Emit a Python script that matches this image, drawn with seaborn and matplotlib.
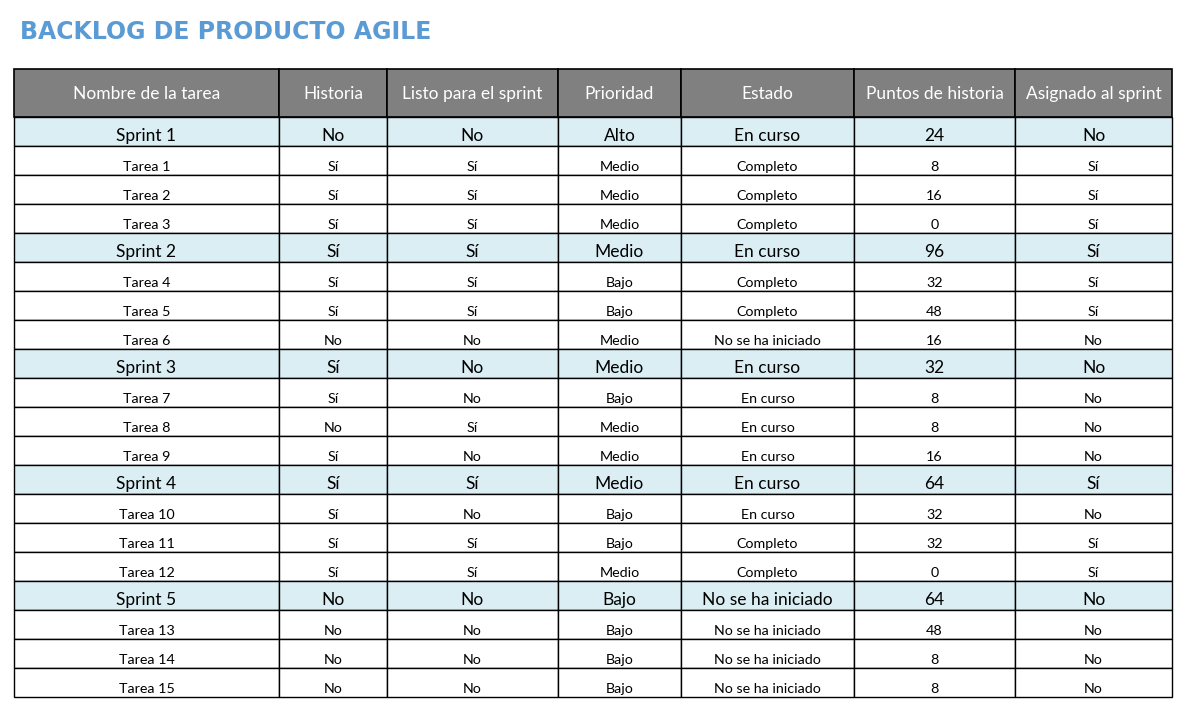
import matplotlib
matplotlib.use("Agg")
import matplotlib.pyplot as plt
from matplotlib.patches import Rectangle
import seaborn as sns
import pandas as pd

# ----------------- Table data -----------------
title = "BACKLOG DE PRODUCTO AGILE"
headers = ["Nombre de la tarea", "Historia", "Listo para el sprint", "Prioridad",
           "Estado", "Puntos de historia", "Asignado al sprint"]

nombres = ["Sprint 1", "Tarea 1", "Tarea 2", "Tarea 3",
           "Sprint 2", "Tarea 4", "Tarea 5", "Tarea 6",
           "Sprint 3", "Tarea 7", "Tarea 8", "Tarea 9",
           "Sprint 4", "Tarea 10", "Tarea 11", "Tarea 12",
           "Sprint 5", "Tarea 13", "Tarea 14", "Tarea 15"]
historia = ["No", "Sí", "Sí", "Sí",
            "Sí", "Sí", "Sí", "No",
            "Sí", "Sí", "No", "Sí",
            "Sí", "Sí", "Sí", "Sí",
            "No", "No", "No", "No"]
listo = ["No", "Sí", "Sí", "Sí",
         "Sí", "Sí", "Sí", "No",
         "No", "No", "Sí", "No",
         "Sí", "No", "Sí", "Sí",
         "No", "No", "No", "No"]
prioridad = ["Alto", "Medio", "Medio", "Medio",
             "Medio", "Bajo", "Bajo", "Medio",
             "Medio", "Bajo", "Medio", "Medio",
             "Medio", "Bajo", "Bajo", "Medio",
             "Bajo", "Bajo", "Bajo", "Bajo"]
estado = ["En curso", "Completo", "Completo", "Completo",
          "En curso", "Completo", "Completo", "No se ha iniciado",
          "En curso", "En curso", "En curso", "En curso",
          "En curso", "En curso", "Completo", "Completo",
          "No se ha iniciado", "No se ha iniciado", "No se ha iniciado", "No se ha iniciado"]
puntos = [24, 8, 16, 0,
          96, 32, 48, 16,
          32, 8, 8, 16,
          64, 32, 32, 0,
          64, 48, 8, 8]
asignado = ["No", "Sí", "Sí", "Sí",
            "Sí", "Sí", "Sí", "No",
            "No", "No", "No", "No",
            "Sí", "No", "Sí", "Sí",
            "No", "No", "No", "No"]

df = pd.DataFrame({
    headers[0]: nombres, headers[1]: historia, headers[2]: listo,
    headers[3]: prioridad, headers[4]: estado, headers[5]: puntos,
    headers[6]: asignado,
})

# ----------------- Layout (pixels) -----------------
col_edges = [14, 279, 387, 558, 681, 854, 1015, 1172]
header_top, header_bot = 69, 117
row_h = 29

sns.set_theme(style="white")
plt.rcParams["font.family"] = ["Lato", "DejaVu Sans"]

fig = plt.figure(figsize=(11.97, 7.10), dpi=100)
ax = fig.add_axes([0, 0, 1, 1])
ax.set_xlim(0, 1197)
ax.set_ylim(710, 0)
ax.axis("off")

ax.text(20, 32, title, fontsize=17, fontweight="bold", color="#5B9BD5",
        family=["DejaVu Sans"], va="center", ha="left")

# header
for j, h in enumerate(headers):
    x0, x1 = col_edges[j], col_edges[j + 1]
    ax.add_patch(Rectangle((x0, header_top), x1 - x0, header_bot - header_top,
                           facecolor="#808080", edgecolor="black", lw=1.2))
    ax.text((x0 + x1) / 2, (header_top + header_bot) / 2 + 1, h, color="white",
            fontsize=12.5, ha="center", va="center")

# body
for i, row in df.iterrows():
    is_sprint = row[headers[0]].startswith("Sprint")
    y0 = header_bot + i * row_h
    for j, h in enumerate(headers):
        x0, x1 = col_edges[j], col_edges[j + 1]
        ax.add_patch(Rectangle((x0, y0), x1 - x0, row_h,
                               facecolor="#DAEEF3" if is_sprint else "white",
                               edgecolor="black", lw=1.0))
        ax.text((x0 + x1) / 2, y0 + row_h - (5 if is_sprint else 4), str(row[h]),
                color="black", fontsize=12.5 if is_sprint else 10.3,
                ha="center", va="baseline")

fig.savefig("out.png", dpi=100)
